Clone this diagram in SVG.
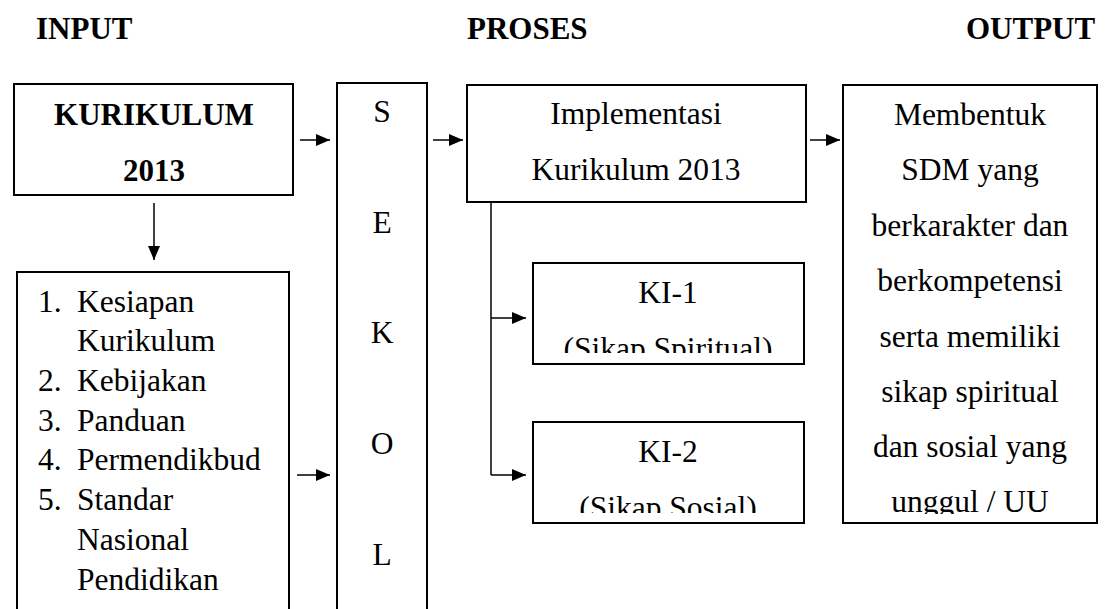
<svg xmlns="http://www.w3.org/2000/svg" width="1114" height="609" viewBox="0 0 1114 609">
<style>
.box{fill:#fff;stroke:#000;stroke-width:2}
.ln{fill:none;stroke:#000;stroke-width:1.5}
</style>
<defs>
<marker id="ah" viewBox="0 0 14 12" refX="14" refY="6" markerWidth="14" markerHeight="12" markerUnits="userSpaceOnUse" orient="auto">
<path d="M0,0 L14,6 L0,12 Z" fill="#000"/>
</marker>
<clipPath id="clipKI1"><rect x="533" y="263" width="272" height="90"/></clipPath>
<clipPath id="clipKI2"><rect x="533" y="422" width="272" height="91"/></clipPath>
<clipPath id="clipOut"><rect x="843" y="85" width="255" height="429"/></clipPath>
</defs>

<g id="headers" font-family="Liberation Serif" font-size="31" font-weight="bold" fill="#000">
<text x="36" y="39">INPUT</text>
<text x="467" y="39">PROSES</text>
<text x="966" y="39">OUTPUT</text>
</g>

<g id="connectors">
<line class="ln" x1="300" y1="140" x2="330" y2="140" marker-end="url(#ah)"/>
<line class="ln" x1="154" y1="203" x2="154" y2="260" marker-end="url(#ah)"/>
<line class="ln" x1="297" y1="475" x2="330" y2="475" marker-end="url(#ah)"/>
<line class="ln" x1="433" y1="140" x2="463" y2="140" marker-end="url(#ah)"/>
<line class="ln" x1="810" y1="140" x2="840" y2="140" marker-end="url(#ah)"/>
<path class="ln" d="M491,202 V475"/>
<line class="ln" x1="491" y1="318" x2="526" y2="318" marker-end="url(#ah)"/>
<line class="ln" x1="491" y1="475" x2="526" y2="475" marker-end="url(#ah)"/>
</g>

<g id="kurikulum">
<rect class="box" x="14" y="84" width="279" height="111"/>
<g font-family="Liberation Serif" font-size="31" font-weight="bold" fill="#000" text-anchor="middle">
<text x="154" y="125">KURIKULUM</text>
<text x="154" y="181">2013</text>
</g>
</g>

<g id="daftar">
<rect class="box" x="17" y="272" width="272" height="350"/>
<g font-family="Liberation Serif" font-size="31.5" fill="#000">
<text x="38" y="312">1.</text>
<text x="77" y="312">Kesiapan</text>
<text x="77" y="351">Kurikulum</text>
<text x="38" y="391">2.</text>
<text x="77" y="391">Kebijakan</text>
<text x="38" y="431">3.</text>
<text x="77" y="431">Panduan</text>
<text x="38" y="470">4.</text>
<text x="77" y="470">Permendikbud</text>
<text x="38" y="510">5.</text>
<text x="77" y="510">Standar</text>
<text x="77" y="550">Nasional</text>
<text x="77" y="590">Pendidikan</text>
</g>
</g>

<g id="sekolah">
<rect class="box" x="337" y="83" width="90" height="540"/>
<g font-family="Liberation Serif" font-size="31.5" fill="#000" text-anchor="middle">
<text x="382" y="122">S</text>
<text x="382" y="233">E</text>
<text x="382" y="343">K</text>
<text x="382" y="454">O</text>
<text x="382" y="565">L</text>
</g>
</g>

<g id="implementasi">
<rect class="box" x="467" y="85" width="339" height="117"/>
<g font-family="Liberation Serif" font-size="31.5" fill="#000" text-anchor="middle">
<text x="636" y="124">Implementasi</text>
<text x="636" y="180">Kurikulum 2013</text>
</g>
</g>

<g id="ki1">
<rect class="box" x="533" y="263" width="271" height="101"/>
<g font-family="Liberation Serif" font-size="31.5" fill="#000" text-anchor="middle">
<text x="668" y="303">KI-1</text>
<text x="668" y="359" clip-path="url(#clipKI1)">(Sikap Spiritual)</text>
</g>
</g>

<g id="ki2">
<rect class="box" x="533" y="422" width="271" height="101"/>
<g font-family="Liberation Serif" font-size="31.5" fill="#000" text-anchor="middle">
<text x="668" y="462">KI-2</text>
<text x="668" y="518" clip-path="url(#clipKI2)">(Sikap Sosial)</text>
</g>
</g>

<g id="output">
<rect class="box" x="843" y="85" width="254" height="438"/>
<g clip-path="url(#clipOut)" font-family="Liberation Serif" font-size="31.5" fill="#000" text-anchor="middle">
<text x="970" y="125">Membentuk</text>
<text x="970" y="180">SDM yang</text>
<text x="970" y="236">berkarakter dan</text>
<text x="970" y="291">berkompetensi</text>
<text x="970" y="347">serta memiliki</text>
<text x="970" y="402">sikap spiritual</text>
<text x="970" y="457">dan sosial yang</text>
<text x="970" y="512">unggul / UU</text>
</g>
</g>
</svg>
